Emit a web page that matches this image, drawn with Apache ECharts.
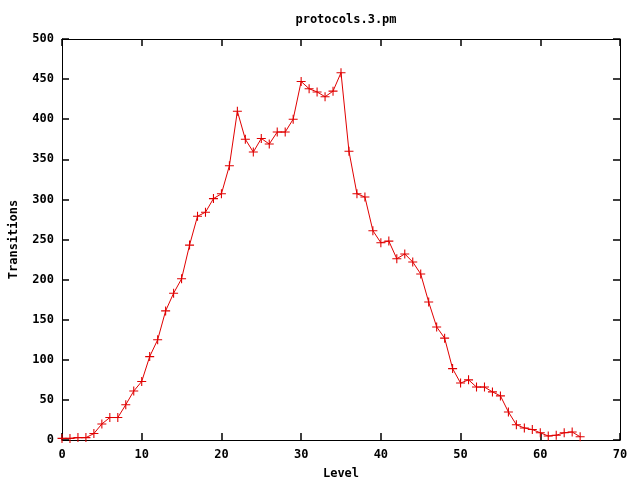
<!DOCTYPE html>
<html>
<head>
<meta charset="utf-8">
<script src="https://cdn.jsdelivr.net/npm/echarts@6/dist/echarts.min.js"></script>
<style>html,body{margin:0;padding:0;background:#fff}#c{width:640px;height:480px}</style>
</head>
<body>
<div id="c"></div>
<script>
var title = 'protocols.3.pm';
var xName = 'Level';
var yName = 'Transitions';
var levels = [0,1,2,3,4,5,6,7,8,9,10,11,12,13,14,15,16,17,18,19,20,21,22,23,24,25,26,27,28,29,30,31,32,33,34,35,36,37,38,39,40,41,42,43,44,45,46,47,48,49,50,51,52,53,54,55,56,57,58,59,60,61,62,63,64,65];
var transitions = [2,2,3,3,8,20,28,28,44,61,73,104,125,161,183,201,243,279,284,301,307,342,410,375,359,376,369,384,384,400,447,438,434,428,435,458,360,307,303,261,246,248,226,232,222,207,172,141,127,89,71,75,66,66,60,55,35,19,15,13,9,5,6,9,10,4];
var xTicks = [0,10,20,30,40,50,60,70];
var yTicks = [0,50,100,150,200,250,300,350,400,450,500];

var font = 'DejaVu Sans Mono';
var data = levels.map(function (l, i) { return [l, transitions[i]]; });
var plus = 'path://M4.4,0h1.2v4.4h4.4v1.2h-4.4v4.4h-1.2v-4.4h-4.4v-1.2h4.4z';
var lbl = {fontFamily: font, fontWeight: 'bold', fontSize: 12, color: '#000'};
function tick() { return {show: true, inside: true, length: 7, lineStyle: {color: '#000', width: 1.5}}; }
function line() { return {show: true, onZero: false, lineStyle: {color: '#000', width: 1}}; }

var chart = echarts.init(document.getElementById('c'), null, {renderer: 'canvas'});
chart.setOption({
  animation: false,
  backgroundColor: '#fff',
  title: {
    text: title, left: 341, top: 9, textAlign: 'center',
    textStyle: {fontFamily: font, fontWeight: 'bold', fontSize: 12, color: '#000'}
  },
  grid: {left: 62, top: 39, width: 558, height: 401, containLabel: false, outerBoundsMode: 'none', show: false},
  xAxis: [{
    type: 'value', min: xTicks[0], max: xTicks[xTicks.length - 1], interval: 10,
    name: xName, nameLocation: 'middle', nameGap: 28, nameTextStyle: lbl,
    axisLine: line(), axisTick: tick(),
    axisLabel: Object.assign({margin: 9}, lbl),
    splitLine: {show: false}
  }, {
    type: 'value', position: 'top', min: xTicks[0], max: xTicks[xTicks.length - 1], interval: 10,
    axisLine: line(), axisTick: tick(),
    axisLabel: {show: false}, splitLine: {show: false}
  }],
  yAxis: [{
    type: 'value', min: yTicks[0], max: yTicks[yTicks.length - 1], interval: 50,
    name: yName, nameLocation: 'middle', nameGap: 42, nameRotate: 90, nameTextStyle: lbl,
    axisLine: line(), axisTick: tick(),
    axisLabel: Object.assign({margin: 8}, lbl),
    splitLine: {show: false}
  }, {
    type: 'value', position: 'right', min: yTicks[0], max: yTicks[yTicks.length - 1], interval: 50,
    axisLine: line(), axisTick: tick(),
    axisLabel: {show: false}, splitLine: {show: false}
  }],
  series: [{
    type: 'line', data: data, xAxisIndex: 0, yAxisIndex: 0,
    symbol: plus, symbolSize: 9, showAllSymbol: true,
    lineStyle: {color: '#e00000', width: 1},
    itemStyle: {color: '#e00000', borderWidth: 0}
  }]
});
</script>
</body>
</html>
